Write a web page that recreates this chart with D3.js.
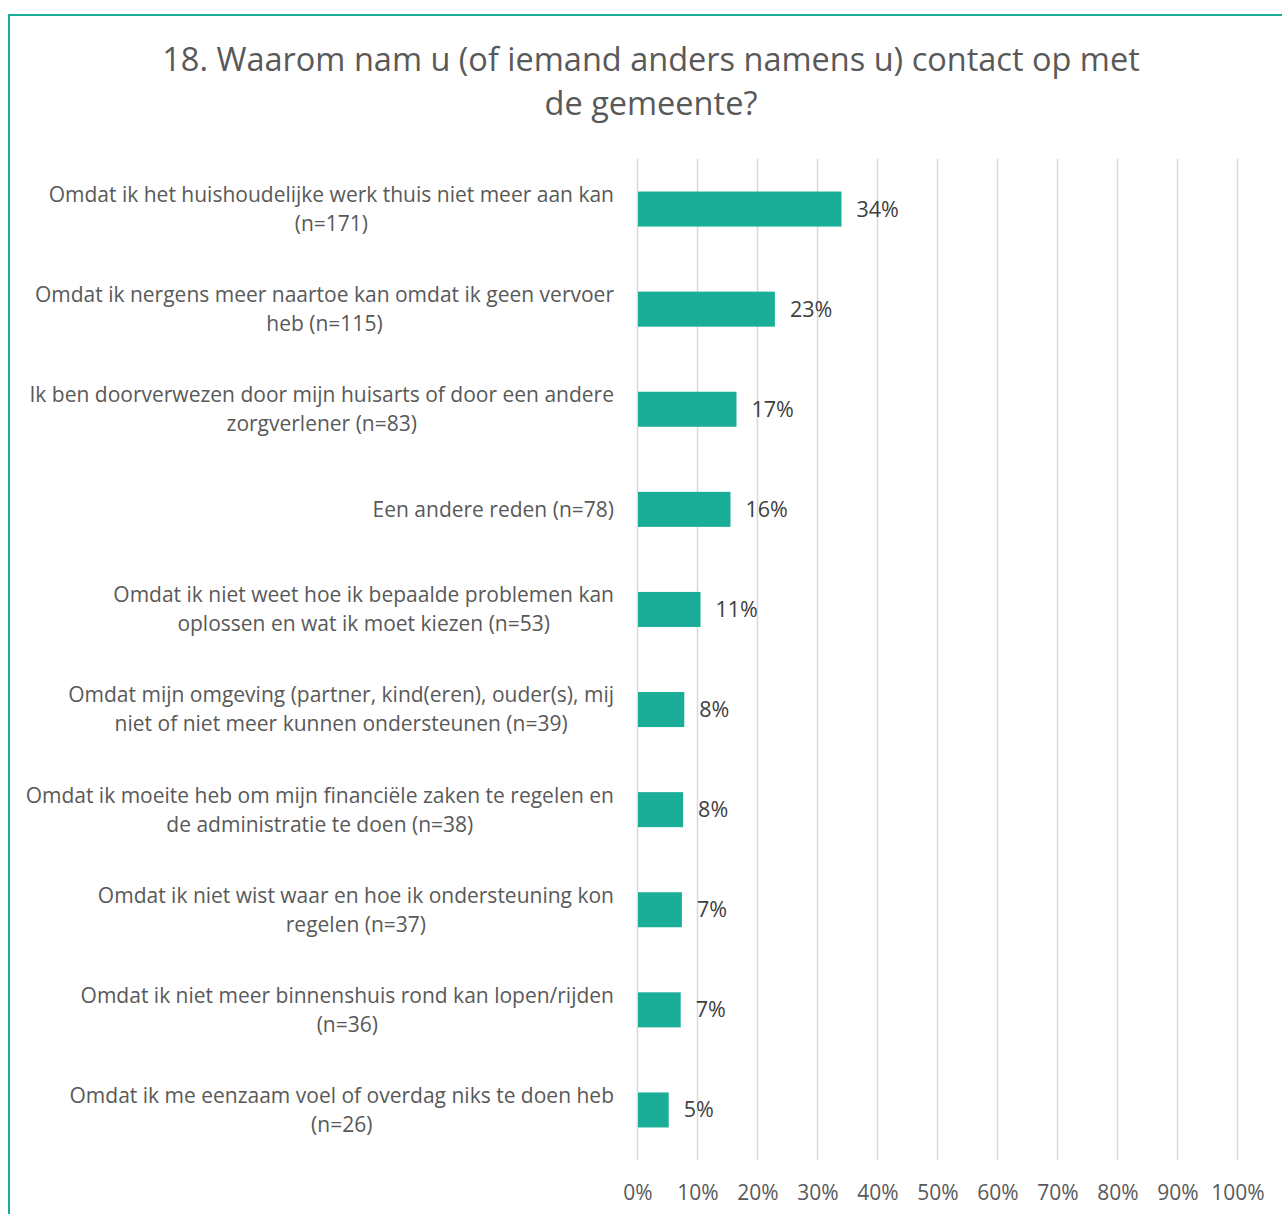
<!DOCTYPE html>
<html>
<head>
<meta charset="utf-8">
<script src="https://cdn.jsdelivr.net/npm/d3@7"></script>
<style>
  html, body { margin: 0; padding: 0; background: #fff; }
  svg { display: block; }
  text { font-family: "Open Sans", sans-serif; }
</style>
</head>
<body>
<svg id="chart" width="1282" height="1214"></svg>
<script>
const titleLines = ["18. Waarom nam u (of iemand anders namens u) contact op met", "de gemeente?"];
const categories = [
  ["Omdat ik het huishoudelijke werk thuis niet meer aan kan", "(n=171)"],
  ["Omdat ik nergens meer naartoe kan omdat ik geen vervoer", "heb (n=115)"],
  ["Ik ben doorverwezen door mijn huisarts of door een andere", "zorgverlener (n=83)"],
  ["Een andere reden (n=78)"],
  ["Omdat ik niet weet hoe ik bepaalde problemen kan", "oplossen en wat ik moet kiezen (n=53)"],
  ["Omdat mijn omgeving (partner, kind(eren), ouder(s), mij", "niet of niet meer kunnen ondersteunen (n=39)"],
  ["Omdat ik moeite heb om mijn financiële zaken te regelen en", "de administratie te doen (n=38)"],
  ["Omdat ik niet wist waar en hoe ik ondersteuning kon", "regelen (n=37)"],
  ["Omdat ik niet meer binnenshuis rond kan lopen/rijden", "(n=36)"],
  ["Omdat ik me eenzaam voel of overdag niks te doen heb", "(n=26)"]
];
const values = [34.0, 22.9, 16.5, 15.5, 10.5, 7.8, 7.6, 7.4, 7.2, 5.2];
const valueLabels = ["34%", "23%", "17%", "16%", "11%", "8%", "8%", "7%", "7%", "5%"];
const tickValues = [0, 10, 20, 30, 40, 50, 60, 70, 80, 90, 100];
const tickLabels = ["0%", "10%", "20%", "30%", "40%", "50%", "60%", "70%", "80%", "90%", "100%"];

const svg = d3.select("#chart");
const teal = "#1aae98";

// frame
svg.append("rect")
  .attr("x", 9).attr("y", 15)
  .attr("width", 1300).attr("height", 1260)
  .attr("fill", "none").attr("stroke", teal).attr("stroke-width", 2);

// title
svg.append("g").selectAll("text").data(titleLines).join("text")
  .attr("x", 651).attr("y", (d, i) => 60 + i * 44)
  .attr("dy", "0.35em")
  .attr("text-anchor", "middle")
  .attr("fill", "#595959")
  .attr("font-size", 32.5)
  .text(d => d);

const x = d3.scaleLinear().domain([0, 100]).range([637.5, 1237.5]);
const idx = d3.range(categories.length);
const y = d3.scaleBand().domain(idx).range([159, 1160]).paddingInner(0.65).paddingOuter(0.325);

// axis labels
const xAxis = d3.axisBottom(x).tickValues(tickValues).tickFormat((d, i) => tickLabels[i]).tickSize(0).tickPadding(0);
const gAxis = svg.append("g").attr("transform", "translate(0,1160)").call(xAxis);
gAxis.select(".domain").remove();
gAxis.selectAll(".tick text")
  .attr("y", 33).attr("dy", "0.35em")
  .attr("fill", "#595959").attr("font-size", 21)
  .attr("font-family", "Open Sans, sans-serif");

// gridlines
svg.append("g").selectAll("line").data(tickValues).join("line")
  .attr("x1", d => x(d)).attr("x2", d => x(d))
  .attr("y1", 159).attr("y2", 1160)
  .attr("stroke", "#d9d9d9").attr("stroke-width", 1.5);

// bars
svg.append("g").selectAll("rect").data(idx).join("rect")
  .attr("x", x(0) + 0.5)
  .attr("y", i => y(i))
  .attr("width", i => x(values[i]) - x(0) - 0.5)
  .attr("height", y.bandwidth())
  .attr("fill", teal);

// value labels
svg.append("g").selectAll("text").data(idx).join("text")
  .attr("x", i => x(values[i]) + 15)
  .attr("y", i => y(i) + y.bandwidth() / 2)
  .attr("dy", "0.35em")
  .attr("fill", "#404040")
  .attr("font-size", 21.5)
  .text(i => valueLabels[i]);

// category labels: block right-aligned at 614, lines centred within block
const rightEdge = 614;
const cg = svg.append("g").selectAll("text").data(idx).join("text")
  .attr("text-anchor", "middle")
  .attr("fill", "#595959")
  .attr("font-size", 21);
cg.each(function(i) {
  const lines = categories[i];
  const cy = y(i) + y.bandwidth() / 2;
  const lh = 29;
  const start = cy - (lines.length - 1) * lh / 2;
  const t = d3.select(this);
  const spans = t.selectAll("tspan").data(lines).join("tspan")
    .attr("y", (d, k) => start + k * lh)
    .attr("dy", "0.35em")
    .text(d => d);
  let maxW = 0;
  spans.each(function() { maxW = Math.max(maxW, this.getComputedTextLength()); });
  spans.attr("x", rightEdge - maxW / 2);
});
</script>
</body>
</html>
